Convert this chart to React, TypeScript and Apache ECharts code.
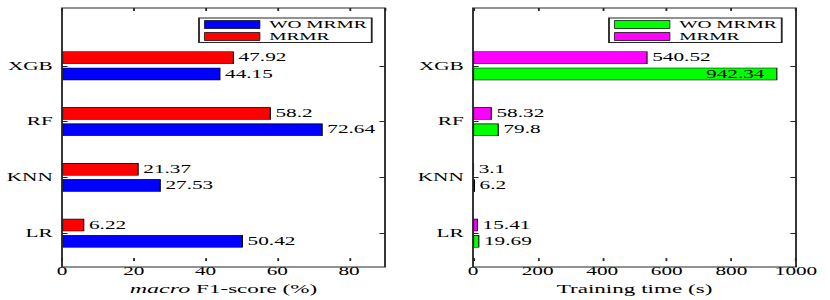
import React, { useEffect, useRef } from 'react';
import * as echarts from 'echarts';

// ---------- data ----------
const categories = ['LR', 'KNN', 'RF', 'XGB'];
const seriesNames = ['WO MRMR', 'MRMR'];
const f1WithoutMrmr = [50.42, 27.53, 72.64, 44.15];
const f1WithMrmr = [6.22, 21.37, 58.2, 47.92];
const timeWithoutMrmr = [19.69, 6.2, 79.8, 942.34];
const timeWithMrmr = [15.41, 3.1, 58.32, 540.52];
const f1Axis = { min: 0, max: 90, interval: 20 };
const timeAxis = { min: 0, max: 1000, interval: 200 };

// ---------- layout (figure is stretched horizontally) ----------
const W = 449;
const H = 300;
const S = 830 / W;
const px = (x: number) => x / S;
const FONT = 'Liberation Serif, Times New Roman, Times, serif';
const INK = '#262626';
const GRID_TOP = 38;
const GRID_H = 229;
const FRAME_TOP = 8;
const panelLeft = [62, 473];
const panelWidth = 323;
const legendLeft = [199, 609];
const colors = [
  ['#0000ff', '#ff0000'],
  ['#00ff00', '#ff00ff'],
];

function buildOption() {
  const grid = panelLeft.map((l) => ({
    left: px(l),
    top: GRID_TOP,
    width: px(panelWidth),
    height: GRID_H,
    containLabel: false,
  }));

  const axesDefs = [f1Axis, timeAxis];
  const names = ['{i|macro} F1-score (%)', 'Training time (s)'];
  const xAxis: any[] = [];
  const yAxis: any[] = [];
  const tick = { show: true, inside: true, length: 3, lineStyle: { color: INK, width: 1 } };
  axesDefs.forEach((ax, p) => {
    xAxis.push({
      type: 'value',
      gridIndex: p,
      min: ax.min,
      max: ax.max,
      interval: ax.interval,
      position: 'bottom',
      axisLine: { show: false, onZero: false },
      axisTick: tick,
      splitLine: { show: false },
      axisLabel: {
        margin: 4,
        fontFamily: FONT,
        fontSize: 11.5,
        color: '#000',
        showMaxLabel: ax.max % ax.interval === 0,
        formatter: (v: number) => String(v),
      },
      name: names[p],
      nameLocation: 'middle',
      nameGap: 14,
      nameTextStyle: {
        fontFamily: FONT,
        fontSize: 12.5,
        color: '#000',
        verticalAlign: 'top',
        rich: { i: { fontFamily: FONT, fontSize: 13, fontStyle: 'italic', color: '#000' } },
      },
    });
    xAxis.push({
      type: 'value',
      gridIndex: p,
      min: ax.min,
      max: ax.max,
      interval: ax.interval,
      position: 'top',
      offset: GRID_TOP - FRAME_TOP,
      axisLine: { show: false, onZero: false },
      axisTick: tick,
      splitLine: { show: false },
      axisLabel: { show: false },
    });
    yAxis.push({
      type: 'category',
      gridIndex: p,
      data: categories,
      position: 'left',
      axisLine: { show: false, onZero: false },
      axisTick: { ...tick, alignWithLabel: true },
      axisLabel: { margin: 5, fontFamily: FONT, fontSize: 11.5, color: '#000' },
    });
    yAxis.push({
      type: 'category',
      gridIndex: p,
      data: categories,
      position: 'right',
      axisLine: { show: false, onZero: false },
      axisTick: { ...tick, alignWithLabel: true },
      axisLabel: { show: false },
    });
  });

  const panelData = [
    [f1WithoutMrmr, f1WithMrmr],
    [timeWithoutMrmr, timeWithMrmr],
  ];
  const series: any[] = [];
  panelData.forEach((pair, p) => {
    const max = axesDefs[p].max;
    // second series first so that it sits above the first within each group
    [1, 0].forEach((i) => {
      const vals = pair[i];
      series.push({
        type: 'bar',
        name: seriesNames[i],
        xAxisIndex: p * 2,
        yAxisIndex: p * 2,
        barWidth: 12.5,
        barGap: '30%',
        itemStyle: { color: colors[p][i], borderColor: '#000', borderWidth: 0.6 },
        label: {
          show: true,
          position: 'right',
          distance: 2.5,
          fontFamily: FONT,
          fontSize: 11.5,
          color: '#000',
        },
        data: vals.map((v) =>
          v > 0.85 * max
            ? { value: v, label: { position: 'insideRight', distance: 7 } }
            : v
        ),
      });
    });
  });

  const legend = [0, 1].map((p) => ({
    orient: 'vertical',
    left: px(legendLeft[p]),
    top: 18,
    icon: 'rect',
    itemWidth: 30,
    itemHeight: 8,
    itemGap: 1,
    padding: [1, 2.7, 0.5, 2.7],
    borderColor: INK,
    borderWidth: 1,
    backgroundColor: '#fff',
    selectedMode: false,
    textStyle: { fontFamily: FONT, fontSize: 10.5, lineHeight: 11, color: '#000' },
    data: seriesNames.map((n, i) => ({
      name: n,
      itemStyle: { color: colors[p][i], borderColor: '#000', borderWidth: 0.5 },
    })),
  }));

  const graphic = panelLeft.map((l) => ({
    type: 'rect',
    silent: true,
    z: 50,
    shape: { x: px(l), y: FRAME_TOP, width: px(panelWidth), height: GRID_TOP + GRID_H - FRAME_TOP },
    style: { fill: 'none', stroke: INK, lineWidth: 1 },
  }));

  return {
    animation: false,
    backgroundColor: '#fff',
    grid,
    xAxis,
    yAxis,
    series,
    legend,
    graphic,
  };
}

export default function App() {
  const ref = useRef<HTMLDivElement>(null);
  useEffect(() => {
    if (!ref.current) return;
    const chart = echarts.init(ref.current, null, { renderer: 'svg', width: W, height: H });
    chart.setOption(buildOption() as any);
    return () => chart.dispose();
  }, []);
  return (
    <div style={{ position: 'absolute', left: 0, top: 0, width: 830, height: H, overflow: 'hidden', background: '#fff' }}>
      <div
        ref={ref}
        style={{ width: W, height: H, transform: `scaleX(${S})`, transformOrigin: '0 0' }}
      />
    </div>
  );
}
